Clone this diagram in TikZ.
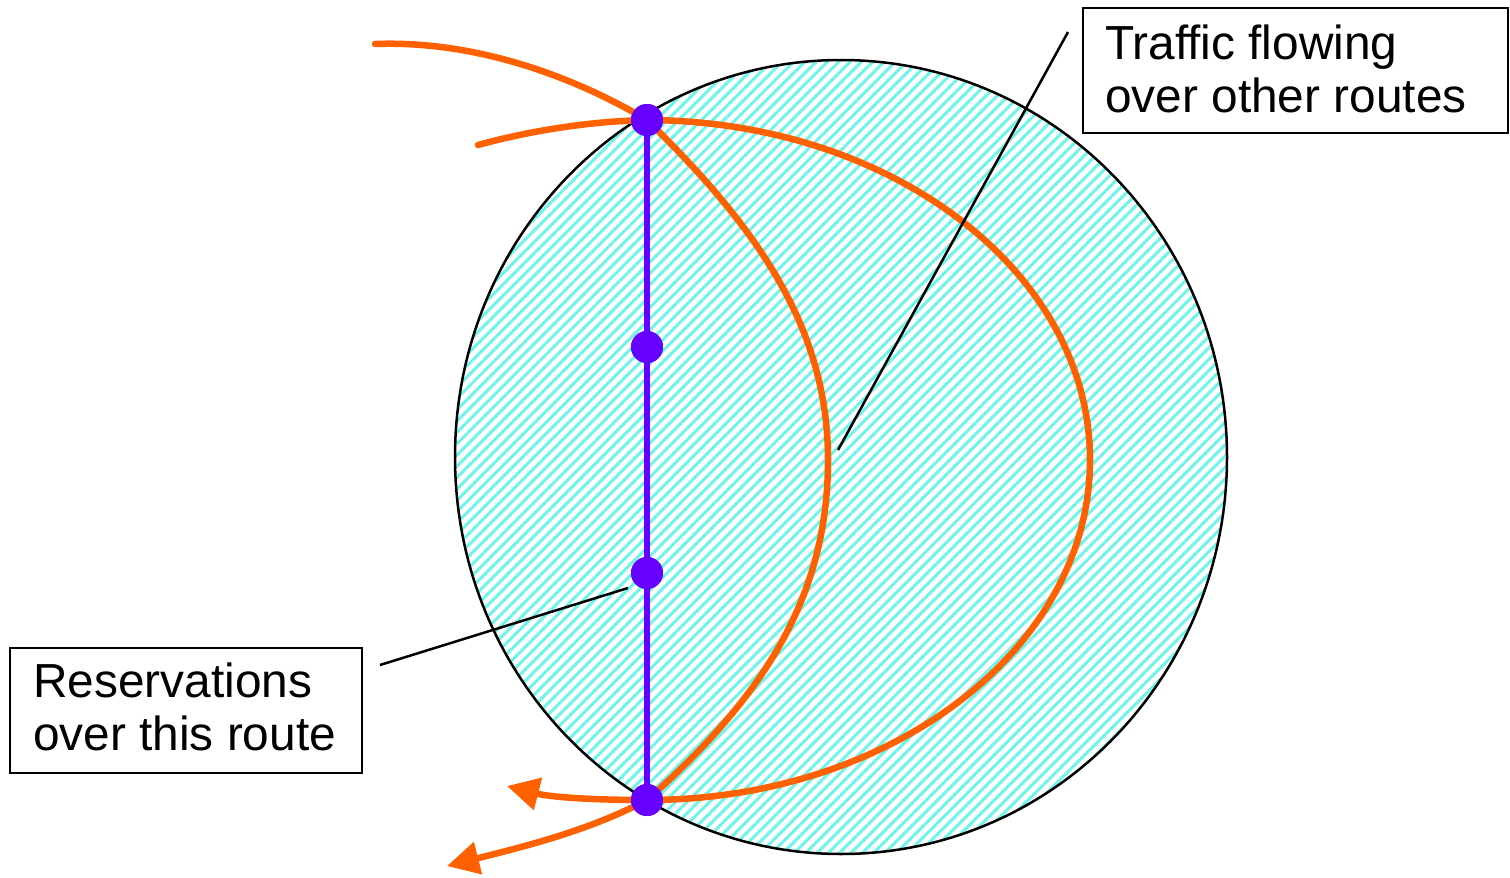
\documentclass[tikz,border=0pt]{standalone}
\usepackage{fontspec}
\setmainfont{Liberation Sans}
\usetikzlibrary{arrows.meta,patterns.meta}
\definecolor{route}{RGB}{255,96,0}
\definecolor{resv}{RGB}{102,0,255}
\definecolor{hatch}{RGB}{110,245,235}
\tikzset{
  orangeline/.style={draw=route,line width=6.5pt},
  bigarrow/.style={orangeline,-{Triangle[length=32pt,width=32pt]}},
  dot/.style={circle,fill=resv,inner sep=0pt,minimum size=32pt},
  labelbox/.style={draw=black,line width=2.5pt,inner sep=0pt},
  labeltext/.style={anchor=base west,align=left,inner sep=0pt,font=\fontsize{47.8}{52.5}\selectfont},
  callout/.style={draw=black,line width=2.5pt}
}
\begin{document}
\begin{tikzpicture}[x=1pt,y=-1pt]
\useasboundingbox (0,0) rectangle (1510,878);
% cloud of other traffic
\path[pattern={Lines[angle=45,distance=8pt,line width=3pt]},pattern color=hatch]
  (841,457) ellipse [x radius=386,y radius=397];
\draw[line width=2.5pt] (841,457) ellipse [x radius=386,y radius=397];
% named points
\node[dot] (n1) at (647,120) {};
\node[dot] (n2) at (647,347) {};
\node[dot] (n3) at (647,573) {};
\node[dot] (n4) at (647,800) {};
\coordinate (inA) at (375,44);
\coordinate (inB) at (478,145);
\coordinate (outA) at (507,786);
\coordinate (outB) at (447,866);
\coordinate (far) at (1090,460);
% orange routes
\draw[orangeline,line cap=round] (inA) .. controls (480,40) and (580,80) .. (n1.center);
\draw[orangeline,line cap=round] (inB) .. controls (540,128) and (600,121) .. (n1.center);
\draw[orangeline] (n1.center) .. controls (760,230) and (828,330) .. (828,460)
  .. controls (828,600) and (760,700) .. (n4.center);
\draw[orangeline] (n1.center) .. controls (892,121) and (far|-0,272) .. (far)
  .. controls (far|-0,648) and (892,800) .. (n4.center);
\draw[bigarrow] (n4.center) .. controls (590,800) and (550,797) .. (outA);
\draw[bigarrow] (n4.center) .. controls (590,830) and (530,845) .. (outB);
% reserved route
\draw[draw=resv,line width=6pt] (n1.center) -- (n4.center);
\node[dot] at (n1) {};
\node[dot] at (n2) {};
\node[dot] at (n3) {};
\node[dot] at (n4) {};
% labels
\node[labelbox,minimum width=425pt,minimum height=125pt] (tbox) at (1295.5,70.5) {};
\node[labeltext] (ttext) at (1105,112) {Traffic flowing\\over other routes};
\node[labelbox,minimum width=352pt,minimum height=125pt] (rbox) at (186,710.5) {};
\node[labeltext] (rtext) at (33,750) {Reservations\\over this route};
\coordinate (tc1) at (838,450);
\coordinate (tc2) at (1068,32);
\coordinate (rc1) at (380,665);
\coordinate (rc2) at (628,588);
\draw[callout] (tc1) -- (tc2);
\draw[callout] (rc1) -- (rc2);
\end{tikzpicture}
\end{document}
